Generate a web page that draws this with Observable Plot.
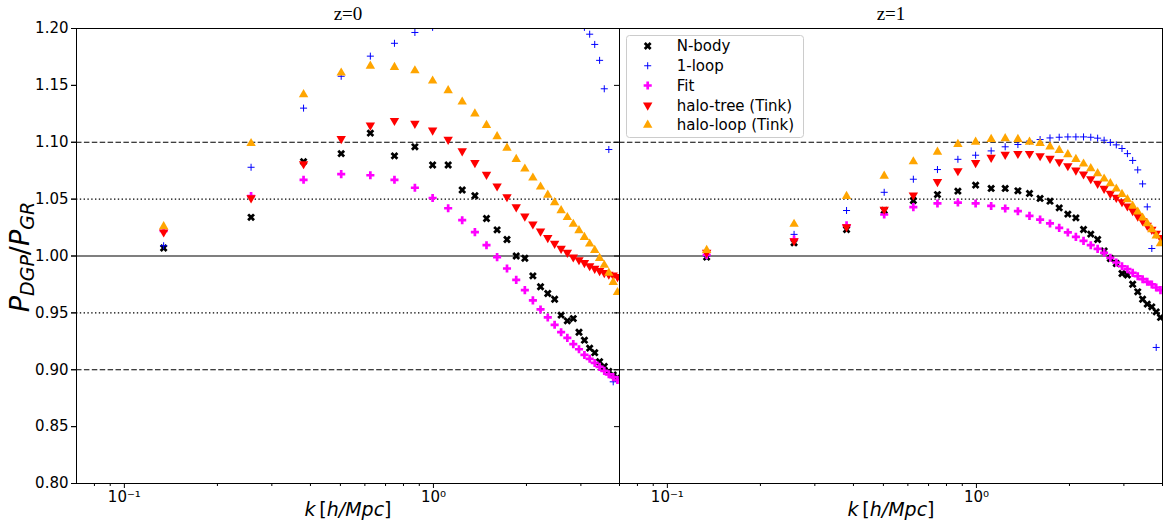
<!DOCTYPE html>
<html>
<head>
<meta charset="utf-8">
<script src="https://cdn.jsdelivr.net/npm/d3@7"></script>
<script src="https://cdn.jsdelivr.net/npm/@observablehq/plot@0.6"></script>
<style>
  body { margin: 0; background: #fff; }
  #wrap { position: relative; width: 1170px; height: 525px; }
</style>
</head>
<body>
<div id="wrap"></div>
<script>
// Wavenumbers k [h/Mpc] shared by every series
const kValues = [0.134, 0.257, 0.380, 0.503, 0.625, 0.748, 0.871, 0.994, 1.116, 1.239, 1.362, 1.485,
  1.607, 1.730, 1.853, 1.976, 2.098, 2.221, 2.344, 2.467, 2.589, 2.712, 2.835, 2.958,
  3.080, 3.203, 3.326, 3.449, 3.571, 3.694, 3.817, 3.940];

// Panel labels
const panels = ["z=0", "z=1"];

// Series names (legend order)
const seriesNames = ["N-body", "1-loop", "Fit", "halo-tree (Tink)", "halo-loop (Tink)"];

// P_DGP / P_GR at z = 0 (null: outside the plotted range)
const nbodyZ0 = [1.007, 1.034, 1.083, 1.090, 1.108, 1.088, 1.096, 1.080, 1.080, 1.058, 1.053, 1.033,
  1.023, 1.0145, 1.000, 0.998, 0.9825, 0.973, 0.967, 0.962, 0.948, 0.943, 0.945, 0.933,
  0.926, 0.919, 0.915, 0.907, 0.903, 0.8985, 0.8955, 0.893];
const oneLoopZ0 = [1.009, 1.078, 1.130, 1.158, 1.1757, 1.187, 1.1965, 1.201, null, null, null, null,
  null, null, null, null, null, null, null, null, null, null, null, null,
  1.201, 1.195, 1.186, 1.172, 1.147, 1.0936, 0.8894, null];
const fitZ0 = [1.022, 1.0526, 1.067, 1.072, 1.071, 1.067, 1.060, 1.051, 1.042, 1.0315, 1.021, 1.0095,
  0.999, 0.989, 0.979, 0.970, 0.961, 0.953, 0.946, 0.9395, 0.933, 0.928, 0.9225, 0.918,
  0.913, 0.9096, 0.906, 0.9025, 0.899, 0.896, 0.8935, 0.891];
const haloTreeZ0 = [1.021, 1.051, 1.081, 1.103, 1.115, 1.119, 1.1165, 1.1106, 1.1024, 1.0923, 1.082, 1.0717,
  1.0614, 1.052, 1.043, 1.035, 1.028, 1.0218, 1.016, 1.011, 1.0066, 1.003, 0.999, 0.9966,
  0.994, 0.9913, 0.989, 0.987, 0.9852, 0.9838, 0.983, 0.9817];
const haloLoopZ0 = [1.026, 1.099, 1.142, 1.161, 1.167, 1.166, 1.163, 1.154, 1.1455, 1.1355, 1.125, 1.115,
  1.105, 1.095, 1.085, 1.0766, 1.0687, 1.0608, 1.0537, 1.047, 1.040, 1.034, 1.028, 1.0224,
  1.0165, 1.0107, 1.005, 0.998, 0.992, 0.985, 0.977, 0.968];

// P_DGP / P_GR at z = 1
const nbodyZ1 = [0.999, 1.0116, 1.0233, 1.040, 1.0488, 1.054, 1.057, 1.0623, 1.0594, 1.0594, 1.0573, 1.055,
  1.0506, 1.0482, 1.0423, 1.0368, 1.0335, 1.0233, 1.0192, 1.0145, 1.0044, 0.9978, 0.9934, 0.9846,
  0.9832, 0.9752, 0.9685, 0.962, 0.9577, 0.9553, 0.9509, 0.946];
const oneLoopZ1 = [1.000, 1.019, 1.040, 1.056, 1.0675, 1.076, 1.085, 1.0886, 1.0924, 1.096, 1.098, 1.101,
  1.1024, 1.1038, 1.1044, 1.1047, 1.1047, 1.1047, 1.1044, 1.1036, 1.1018, 1.0998, 1.0977, 1.0945,
  1.090, 1.084, 1.0757, 1.0634, 1.0432, 1.0066, 0.9196, null];
const fitZ1 = [1.001, 1.0145, 1.027, 1.0365, 1.043, 1.0462, 1.047, 1.0462, 1.044, 1.0418, 1.0394, 1.0353,
  1.032, 1.0286, 1.0247, 1.0207, 1.0168, 1.0133, 1.0095, 1.0063, 1.0028, 0.9984, 0.9943, 0.991,
  0.9884, 0.9852, 0.9822, 0.9796, 0.9773, 0.975, 0.9723, 0.970];
const haloTreeZ1 = [1.003, 1.0133, 1.0256, 1.041, 1.0535, 1.0652, 1.0748, 1.082, 1.0866, 1.0892, 1.090, 1.090,
  1.088, 1.0857, 1.0827, 1.0792, 1.0754, 1.072, 1.0678, 1.0637, 1.0594, 1.055, 1.0514, 1.0476,
  1.0438, 1.0397, 1.035, 1.0309, 1.0268, 1.0233, 1.0198, 1.016];
const haloLoopZ1 = [1.005, 1.028, 1.0526, 1.0704, 1.083, 1.0915, 1.0983, 1.1003, 1.1027, 1.1033, 1.1027, 1.1003,
  1.099, 1.096, 1.093, 1.0892, 1.085, 1.081, 1.0769, 1.0725, 1.0678, 1.0637, 1.059, 1.0543,
  1.0497, 1.044, 1.0388, 1.0335, 1.0286, 1.0233, 1.0177, 1.011];

// Axis ticks
const yTicks = [0.80, 0.85, 0.90, 0.95, 1.00, 1.05, 1.10, 1.15, 1.20];
const xMajorTicks = [0.1, 1];
const xMajorLabels = ["10\u207B\u00B9", "10\u2070"];
const xMinorTicks = [0.08, 0.09, 0.2, 0.3, 0.4, 0.5, 0.6, 0.7, 0.8, 0.9, 2, 3, 4];
const xTitle = "k [h/Mpc]";

// Reference lines
const dashedLevels = [1.10, 0.90];
const dottedLevels = [1.05, 0.95];
const solidLevels = [1.00];

// Marker styles per series
const styles = {
  "N-body":           {symbol: "cross", rotate: 45, fill: "black", r: 3.5},
  "1-loop":           {symbol: "plus", stroke: "#0000ff", r: 2.4},
  "Fit":              {symbol: "cross", rotate: 0, fill: "#ff00ff", r: 3.4},
  "halo-tree (Tink)": {symbol: "triangle", rotate: 180, fill: "#ff0000", r: 3.5},
  "halo-loop (Tink)": {symbol: "triangle", rotate: 0, fill: "#ffa500", r: 3.5}
};

const seriesByPanel = {
  "z=0": {"N-body": nbodyZ0, "1-loop": oneLoopZ0, "Fit": fitZ0, "halo-tree (Tink)": haloTreeZ0, "halo-loop (Tink)": haloLoopZ0},
  "z=1": {"N-body": nbodyZ1, "1-loop": oneLoopZ1, "Fit": fitZ1, "halo-tree (Tink)": haloTreeZ1, "halo-loop (Tink)": haloLoopZ1}
};

// Long-format rows: {z, series, k, ratio}
const rows = [];
for (const z of panels) {
  for (const name of seriesNames) {
    seriesByPanel[z][name].forEach((v, i) => {
      if (v != null) rows.push({z, series: name, k: kValues[i], ratio: v});
    });
  }
}

const dotMarks = seriesNames.map(name => {
  const s = styles[name];
  const opts = {fx: "z", x: "k", y: "ratio", symbol: s.symbol, r: s.r, clip: true};
  if (s.rotate) opts.rotate = s.rotate;
  if (s.fill) { opts.fill = s.fill; opts.stroke = "none"; }
  if (s.stroke) { opts.stroke = s.stroke; opts.strokeWidth = 1; opts.fill = "none"; }
  return Plot.dot(rows.filter(d => d.series === name), opts);
});

const chart = Plot.plot({
  width: 1170,
  height: 525,
  marginTop: 28,
  marginRight: 8,
  marginBottom: 42,
  marginLeft: 75,
  style: {fontFamily: "DejaVu Sans", fontSize: "14px", background: "white", color: "black"},
  fx: {domain: panels, padding: 0, label: null},
  x: {type: "log", domain: [0.07, 4.0]},
  y: {domain: [0.8, 1.2]},
  marks: [
    Plot.ruleY(dashedLevels, {stroke: "black", strokeWidth: 1.2, strokeDasharray: "5.5,2.4"}),
    Plot.ruleY(dottedLevels, {stroke: "black", strokeWidth: 1.2, strokeDasharray: "1.4,2.4"}),
    Plot.ruleY(solidLevels, {stroke: "black", strokeWidth: 1.2}),
    ...dotMarks,
    Plot.frame({stroke: "black", strokeWidth: 1}),
    Plot.axisFx({anchor: "top", label: null, tickSize: 0, tickPadding: 9}),
    Plot.axisX({ticks: xMajorTicks, tickSize: 5, tickPadding: 3, label: null, fontSize: 15,
      tickFormat: d => xMajorLabels[xMajorTicks.indexOf(d)]}),
    Plot.axisX({ticks: xMinorTicks, tickSize: 3, label: null, tickFormat: () => ""}),
    Plot.axisY({ticks: yTicks, tickSize: 5, tickPadding: 3, label: null, fontSize: 15,
      tickFormat: d => d.toFixed(2)}),
    Plot.axisY({ticks: yTicks, tickSize: 5, label: null, facetAnchor: null, tickFormat: () => ""}),
    Plot.text(panels, {fx: d => d, frameAnchor: "bottom", dy: 32, text: () => xTitle,
      fontSize: 19, fontFamily: "DejaVu Sans"})
  ]
});

document.getElementById("wrap").appendChild(chart);

const svg = d3.select(chart);

// Serif panel headers
svg.selectAll('g[aria-label="fx-axis tick label"] text')
  .attr("font-family", "Liberation Serif")
  .attr("font-size", 19);

// x-axis titles: italic variables, upright brackets
svg.selectAll("text")
  .filter(function() { return this.textContent === xTitle; })
  .each(function() {
    const t = d3.select(this);
    t.text(null);
    t.append("tspan").attr("font-style", "italic").text("k");
    t.append("tspan").text("\u2009[");
    t.append("tspan").attr("font-style", "italic").text("h/Mpc");
    t.append("tspan").text("]");
  });

// Y-axis title with subscripts
const yTitle = svg.append("text")
  .attr("transform", "translate(29,257) rotate(-90)")
  .attr("text-anchor", "middle")
  .attr("font-family", "DejaVu Sans")
  .attr("font-style", "italic")
  .attr("font-size", 27)
  .attr("fill", "black");
yTitle.append("tspan").text("P");
yTitle.append("tspan").attr("font-size", 19).attr("dy", 5).text("DGP");
yTitle.append("tspan").attr("dy", -5).attr("font-style", "normal").text("/");
yTitle.append("tspan").text("P");
yTitle.append("tspan").attr("font-size", 19).attr("dy", 5).text("GR");

// Legend inside the z=1 panel
const symbolMap = {cross: d3.symbolCross, plus: d3.symbolPlus, triangle: d3.symbolTriangle};
const legend = svg.append("g").attr("transform", "translate(626.5,35.5)");
legend.append("rect")
  .attr("width", 177).attr("height", 102).attr("rx", 3)
  .attr("fill", "white").attr("fill-opacity", 0.8)
  .attr("stroke", "#cccccc").attr("stroke-width", 1);
seriesNames.forEach((name, i) => {
  const s = styles[name];
  const cy = 10.5 + i * 19.75;
  const path = d3.symbol(symbolMap[s.symbol], Math.PI * s.r * s.r)();
  legend.append("path")
    .attr("d", path)
    .attr("transform", `translate(21.2,${cy}) rotate(${s.rotate || 0})`)
    .attr("fill", s.fill || "none")
    .attr("stroke", s.stroke || "none")
    .attr("stroke-width", 1);
  legend.append("text")
    .attr("x", 50.2).attr("y", cy).attr("dy", "0.36em")
    .attr("text-anchor", "start")
    .attr("font-family", "DejaVu Sans").attr("font-size", 15).attr("fill", "black")
    .text(name);
});
</script>
</body>
</html>
